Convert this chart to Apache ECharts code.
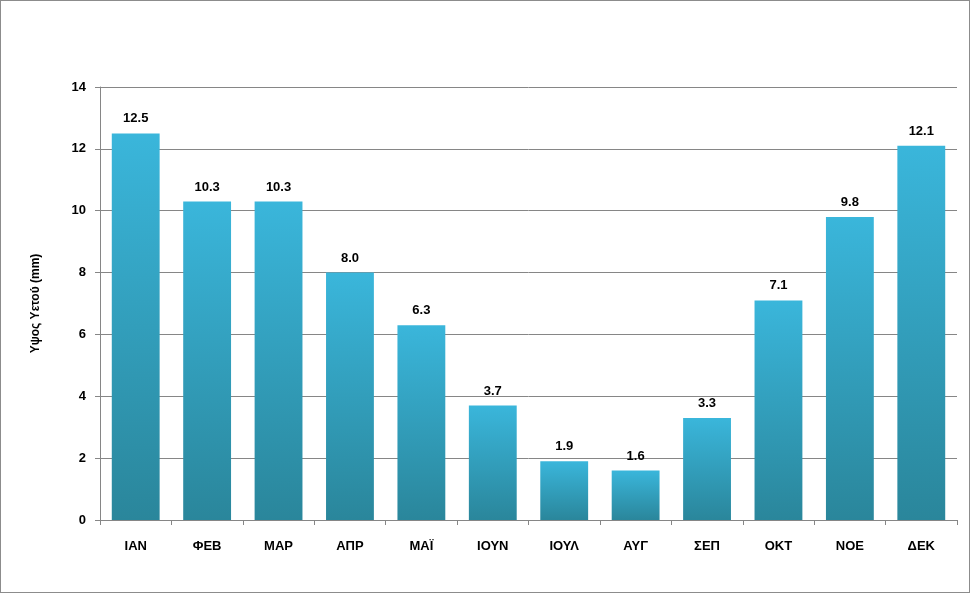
<!DOCTYPE html>
<html><head><meta charset="utf-8">
<script src="https://cdn.jsdelivr.net/npm/echarts@6/dist/echarts.min.js"></script>
<style>html,body{margin:0;padding:0;background:#fff}#c{width:970px;height:593px;box-sizing:border-box;border:1px solid #8c8c8c}</style>
</head><body><div id="c"></div>
<script>
const categories = ['ΙΑΝ','ΦΕΒ','ΜΑΡ','ΑΠΡ','ΜΑΪ','ΙΟΥΝ','ΙΟΥΛ','ΑΥΓ','ΣΕΠ','ΟΚΤ','ΝΟΕ','ΔΕΚ'];
const values = [12.5,10.3,10.3,8.0,6.3,3.7,1.9,1.6,3.3,7.1,9.8,12.1];
const yTitle = 'Υψος Υετού (mm)';
const chart = echarts.init(document.getElementById('c'));
const font = 'Liberation Sans, Arial, sans-serif';
chart.setOption({
  animation:false,
  grid:{left:99,right:12,top:86,bottom:72},
  xAxis:{type:'category',data:categories,
    axisLine:{lineStyle:{color:'#868686'}},
    axisTick:{show:true,length:5,lineStyle:{color:'#868686'}},
    axisLabel:{color:'#000',fontWeight:'bold',fontSize:13,fontFamily:font,margin:20}},
  yAxis:{type:'value',min:0,max:14,interval:2,name:yTitle,nameLocation:'middle',nameGap:58,nameRotate:90,
    nameTextStyle:{color:'#000',fontWeight:'bold',fontSize:12,fontFamily:font},
    axisLine:{show:true,lineStyle:{color:'#868686'}},
    axisTick:{show:true,length:5,lineStyle:{color:'#868686'}},
    splitLine:{lineStyle:{color:'#868686'}},
    axisLabel:{color:'#000',fontWeight:'bold',fontSize:13,fontFamily:font,margin:14}},
  series:[{type:'bar',data:values,barWidth:'67%',
    itemStyle:{color:new echarts.graphic.LinearGradient(0,0,0,1,[{offset:0,color:'#3ab6db'},{offset:1,color:'#2a869b'}])},
    label:{show:true,position:'top',distance:8,color:'#000',fontWeight:'bold',fontSize:13,fontFamily:font,
      formatter:p=>p.value.toFixed(1)}}]
});
</script></body></html>
